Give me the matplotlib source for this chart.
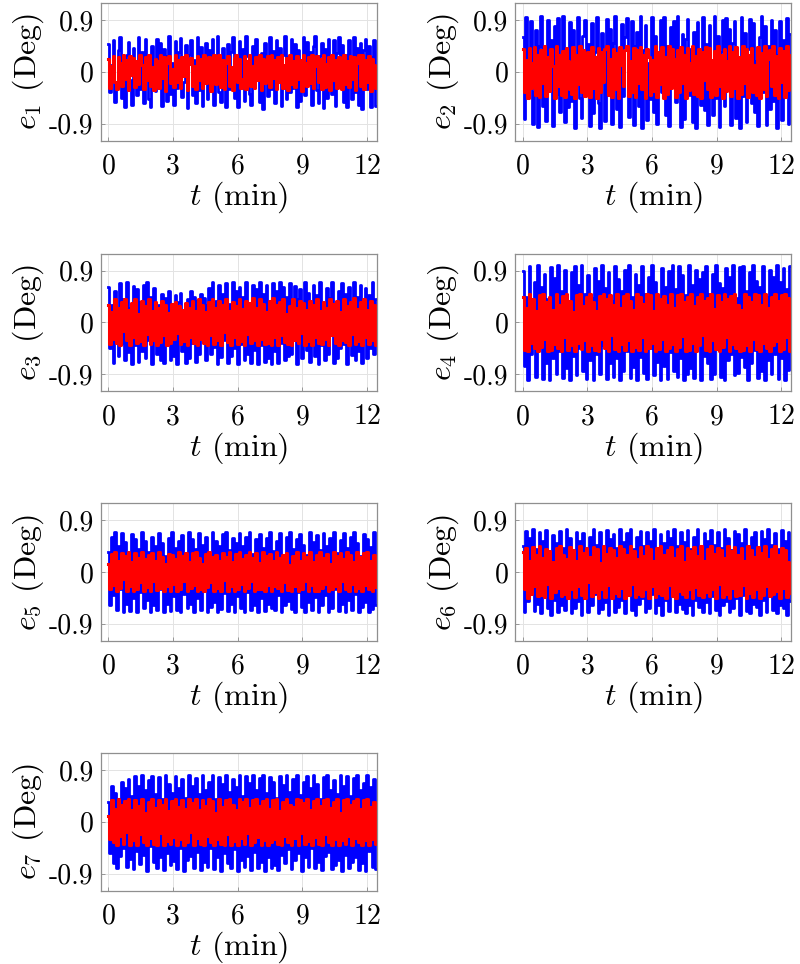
import numpy as np
import matplotlib
matplotlib.use('Agg')
import matplotlib.pyplot as plt
from matplotlib.ticker import FixedLocator, FixedFormatter

plt.rcParams['font.family'] = 'serif'
plt.rcParams['font.serif'] = ['cmr10']
plt.rcParams['mathtext.fontset'] = 'cm'
plt.rcParams['axes.unicode_minus'] = False

T_END = 12.4              # length of the record (min)
X_TICKS = [0, 3, 6, 9, 12]
X_TICK_LABELS = ['0', '3', '6', '9', '12']
Y_TICKS = [-0.9, 0, 0.9]
Y_TICK_LABELS = ['-0.9', '0', '0.9']

# tracking errors in 1/100 Deg, blue = first controller, red = second controller
e1_blue = [48, -35, 12, 55, -52, -20, 38, 60, -45, 25,
           -62, 30, 52, -15, -58, 42, 18, -40, 61, -30,
           35, -55, 58, 22, -48, -62, 45, 10, -33, 57,
           -25, 50, -60, 40, 28, -50, 62, -38, 15, -57,
           53, -28, 34, 59, -44, -18, 47, -63, 30, 55,
           -40, 20, -55, 61, -32, 44, -60, 12, 50, -47,
           38, -22, 57, -58, 25, 62, -35, -52, 42, 18,
           -61, 48, -30, 35, 60, -45, 22, -62, 54, -20,
           40, -50, 62, 28, -38, -57, 45, -25, 58, 15,
           -52, 33, -64, 50, 20, -42, 61, -30, 36, -55,
           55, -18, 42, -60, 30, 62, -48, 25, -35, 57,
           -28, 48, -62, 38, -50, 18, 60, -40, 52, -22,
           35, -58, 45, 62, -32, -55, 28, 50, -63, 40,
           -45, 58, 20, -38, 55, -60, 33, 61, -25, 47,
           -52, 30, -62, 56, 22, -48, 60, -35, 42, -58,
           50, -65, 38, 58, -30, 45, -62, 25, 55, -60]
e1_red = [22, -28, 10, 27, -18, -30, 25, 15, -25, 30,
          -12, 20, -32, 28, -5, 24, -27, 18, -22, 30,
          12, -30, 26, -15, 29, -25, 8, -31, 22, 18,
          -28, 30, -10, 25, -33, 15, 28, -20, 5, -26,
          30, -18, 20, -29, 26, -8, 30, -32, 14, 24,
          -25, 10, -30, 28, -15, 22, -28, 30, -20, 12,
          26, -33, 18, 29, -22, -10, 30, -27, 20, -30,
          15, 28, -25, 8, -31, 24, 30, -18, 22, -28,
          -12, 27, -30, 18, 30, -24, 10, -29, 26, -15,
          30, -32, 22, -20, 14, 28, -26, 30, -10, 20,
          -30, 25, -18, 29, -28, 12, 24, -31, 30, -22,
          18, -27, 28, -12, 20, -33, 30, 15, -25, 26,
          -20, 30, -29, 10, 27, -18, 22, -30, 29, -26,
          14, 25, -32, 30, -15, 20, -28, 26, 8, -30,
          30, -22, 18, -27, 28, -12, 25, -31, 16, 29,
          -24, 30, -30, 20, -18, 27, -33, 22, 12, -28]

e2_blue = [60, -82, 95, -40, 20, 88, -90, -35, 72, -96,
           45, 97, -60, 30, -85, 90, -20, 55, -95, 80,
           -38, 93, -70, 15, 97, -88, 40, -62, 86, -50,
           72, -97, 25, 95, -45, -80, 62, 90, -30, 48,
           -94, 85, -72, 35, 96, -55, -97, 68, 20, -85,
           92, -40, 75, -90, 50, 97, -65, 30, -96, 83,
           -42, 60, 94, -78, -25, 88, -93, 45, 70, -60,
           97, -97, 38, 82, -84, 15, -48, 96, -70, 62,
           -90, 35, 90, -35, 95, -75, 45, -95, 78, -20,
           88, -52, 97, 25, -96, 66, -82, 58, 92, -40,
           40, -88, 70, -97, 86, 30, -58, 95, -66, 48,
           -92, 82, 20, -75, 97, -45, 62, -96, 35, 90,
           -60, 94, -30, 75, -93, 50, 88, -80, 25, -97,
           96, -42, 68, -88, 40, 92, -55, 85, -70, 18,
           -95, 60, 97, -35, 80, -92, 45, -65, 90, -50,
           72, -97, 30, 88, -84, 55, -40, 94, -90, 65]
e2_red = [40, -35, 20, -45, 42, -28, 15, 44, -40, 30,
          -44, 38, -20, 45, -42, 25, -33, 40, 10, -45,
          45, -25, 30, -40, 36, -44, 42, 18, -30, -38,
          43, -45, 30, -22, 45, -36, 38, -42, 16, 35,
          -44, 44, -28, 25, -45, 42, -35, 35, -18, 40,
          45, -40, 22, -43, 40, -30, 33, -45, 44, 12,
          -25, 38, 45, -42, 18, -35, 42, -44, 38, -20,
          44, -30, 30, -45, 40, 25, -40, 20, -33, 45,
          -43, 35, -22, 43, -45, 26, -38, 45, -28, 40,
          22, -44, 38, -35, 44, -20, 30, -45, 42, -32,
          15, 45, -38, 28, -42, 40, -45, 35, -15, 44,
          -30, 42, -44, 20, 36, -40, 45, -25, 30, -45,
          40, -33, 18, 45, -42, 35, -28, 44, -45, 25,
          -38, 45, -20, 40, -44, 30, 42, -35, 12, -40,
          44, -45, 33, -30, 45, -42, 22, 38, -25, 45,
          -40, 28, -45, 42, -18, 36, -44, 45, -32, 30]

e3_blue = [62, -45, 30, -70, 55, 10, -58, 68, -35, 40,
           -66, 70, -52, 25, -72, 64, -40, 58, -68, 35,
           -50, 66, -62, 70, -30, 45, -72, 60, 15, -55,
           30, -65, 50, -70, 42, -38, 55, -66, 28, -58,
           48, -72, 35, 52, -50, 20, -70, 40, -62, 55,
           -35, 45, -68, 38, -55, 50, -25, 42, -66, 30,
           60, -55, 70, -42, 38, -72, 65, -60, 50, -30,
           68, -70, 32, -58, 70, -45, 55, -72, 62, -38,
           45, -66, 70, -55, 28, -70, 66, -48, 58, -72,
           70, -40, 50, -68, 65, -62, 35, -72, 68, -50,
           55, -70, 70, -35, 62, -66, 45, -58, 68, -55,
           -30, 64, -72, 40, 58, -62, 25, 70, -48, 52,
           -68, 35, 66, -58, 48, -72, 70, -40, 30, -65,
           60, -55, 42, 70, -70, 20, -62, 55, -45, 68,
           -38, 50, -72, 62, 35, -56, 70, -66, 45, -50,
           66, -70, 28, 60, -62, 48, -45, 70, -55, 40]
e3_red = [30, -38, 18, -28, 40, -35, 25, -40, 36, -15,
          40, -30, 22, -39, 34, -25, 40, -36, 15, -32,
          38, -40, 28, -20, 40, -37, 20, -30, 35, -40,
          25, -34, 38, -22, 30, -40, 16, -36, 32, -28,
          36, -18, 28, -38, 22, -32, 34, -40, 26, -25,
          38, -35, 20, -40, 40, -28, 30, -36, 18, -40,
          35, -22, 40, -38, 25, -30, 38, -40, 30, -16,
          40, -34, 20, -40, 36, -26, 28, -38, 40, -32,
          24, -40, 38, -20, 34, -36, 42, -30, 26, -40,
          40, -28, 32, -38, 18, -35, 38, -40, 42, -25,
          30, -40, 36, -22, 40, -34, 15, -38, 28, -40,
          40, -30, 25, -36, 38, -18, 34, -40, 22, -32,
          38, -40, 30, -26, 40, -35, 20, -38, 36, -28,
          26, -40, 40, -22, 32, -36, 38, -40, 18, -30,
          40, -34, 28, -40, 36, -20, 42, -38, 24, -32,
          35, -40, 40, -26, 22, -38, 38, -30, 30, -40]

e4_blue = [90, -75, 45, -100, 98, -55, 20, 70, -95, 100,
           -40, 62, -98, 85, -70, 40, -100, 96, -62, 78,
           -90, 100, -50, 55, -97, 92, -80, 35, -100, 88,
           -58, 99, -92, 65, -45, 100, -85, 50, -98, 82,
           -66, 42, -100, 95, -55, 72, -90, 100, -40, 60,
           -98, 88, -70, 38, -95, 98, -62, 75, -100, 55,
           -85, 92, -50, 100, -96, 45, -78, 85, -100, 66,
           -60, 98, -88, 50, -99, 80, -45, 100, -92, 70,
           -68, 40, -100, 95, -75, 62, -98, 90, -52, 100,
           -85, 58, -95, 99, -62, 82, -100, 48, -90, 100,
           -80, 65, -96, 92, -40, 75, -100, 88, -58, 98,
           -70, 50, -99, 85, -90, 100, -45, 68, -95, 60,
           -100, 94, -65, 80, -55, 100, -92, 42, -88, 96,
           -60, 99, -78, 55, -100, 88, -70, 100, -48, 72,
           -96, 62, -85, 98, -100, 45, -66, 92, -90, 80,
           -55, 100, -98, 70, -62, 95, -100, 58, -82, 98]
e4_red = [45, -48, 25, -50, 50, -35, 40, -45, 20, -50,
          48, -42, 50, -28, 35, -50, 44, -48, 22, -38,
          50, -45, 30, -50, 46, -25, 50, -48, 38, -40,
          18, -50, 48, -35, 50, -46, 28, -30, 44, -50,
          50, -40, 35, -48, 20, -50, 46, -28, 50, -45,
          40, -50, 48, -22, 30, -46, 50, -50, 25, -38,
          46, -48, 50, -30, 38, -50, 22, -42, 50, -48,
          44, -26, 32, -50, 50, -44, 48, -35, 20, -50,
          50, -46, 40, -28, 46, -50, 30, -45, 50, -38,
          26, -50, 48, -42, 50, -24, 36, -50, 45, -48,
          50, -36, 28, -50, 44, -40, 50, -22, 38, -48,
          42, -50, 50, -30, 24, -46, 48, -50, 35, -42,
          50, -26, 40, -50, 46, -38, 50, -45, 30, -50,
          22, -48, 50, -40, 44, -50, 36, -28, 50, -46,
          48, -50, 30, -35, 50, -44, 26, -50, 45, -40,
          50, -32, 38, -50, 48, -46, 50, -25, 42, -50]

e5_blue = [35, -58, 62, -40, 70, -66, 45, -30, 68, -70,
           52, -55, 30, -68, 66, -45, 58, -70, 40, -35,
           70, -62, 55, -48, 35, -70, 62, -58, 45, -66,
           68, -30, 50, -70, 28, -55, 60, -68, 70, -42,
           42, -66, 55, -70, 65, -38, 32, -62, 70, -55,
           58, -70, 40, -45, 68, -66, 48, -30, 62, -70,
           30, -60, 70, -52, 55, -70, 45, -64, 66, -36,
           70, -68, 38, -56, 60, -70, 50, -42, 68, -62,
           45, -70, 62, -35, 70, -66, 32, -58, 58, -70,
           66, -45, 42, -68, 60, -55, 70, -62, 36, -66,
           55, -40, 68, -70, 25, -58, 62, -50, 70, -64,
           40, -70, 58, -35, 66, -60, 48, -70, 30, -52,
           70, -66, 52, -44, 64, -70, 38, -58, 68, -40,
           46, -70, 60, -62, 70, -30, 34, -68, 56, -55,
           68, -70, 42, -48, 62, -66, 70, -38, 50, -70,
           28, -60, 66, -52, 58, -70, 44, -64, 70, -58]
e5_red = [15, -30, 32, -22, 35, -33, 20, -28, 34, -12,
          28, -33, 35, -25, 18, -32, 33, -30, 25, -18,
          35, -33, 22, -26, 30, -33, 34, -15, 20, -31,
          35, -28, 26, -33, 14, -24, 32, -33, 30, -20,
          22, -33, 35, -30, 28, -16, 34, -33, 18, -27,
          33, -22, 35, -33, 24, -30, 15, -33, 32, -26,
          35, -18, 27, -33, 30, -28, 20, -33, 34, -14,
          26, -32, 35, -24, 18, -33, 32, -30, 35, -20,
          22, -33, 30, -27, 35, -16, 25, -33, 33, -29,
          16, -30, 35, -33, 28, -22, 32, -33, 20, -25,
          35, -28, 24, -33, 30, -18, 34, -31, 12, -33,
          28, -24, 35, -33, 20, -30, 33, -15, 26, -33,
          35, -22, 18, -32, 30, -33, 35, -27, 24, -20,
          32, -33, 15, -29, 35, -24, 28, -33, 34, -16,
          22, -30, 35, -33, 30, -20, 18, -33, 35, -28,
          26, -33, 33, -22, 35, -30, 20, -33, 30, -26]

e6_blue = [45, -70, 72, -50, 60, -35, 75, -68, 40, -55,
           70, -72, 55, -40, 74, -62, 35, -75, 65, -48,
           50, -70, 72, -58, 42, -66, 75, -35, 60, -72,
           38, -62, 70, -50, 55, -75, 68, -45, 40, -70,
           62, -58, 75, -38, 48, -72, 70, -65, 35, -52,
           74, -75, 58, -42, 66, -70, 42, -60, 75, -48,
           52, -72, 68, -35, 75, -66, 40, -75, 62, -55,
           72, -45, 45, -70, 70, -62, 55, -38, 75, -72,
           38, -58, 66, -75, 50, -48, 72, -68, 60, -40,
           75, -70, 45, -55, 70, -65, 52, -72, 74, -58,
           40, -75, 62, -48, 75, -60, 35, -70, 68, -52,
           55, -72, 74, -42, 48, -66, 70, -75, 42, -58,
           75, -50, 60, -70, 38, -62, 72, -45, 66, -75,
           50, -40, 75, -68, 45, -72, 62, -55, 70, -60,
           35, -75, 72, -48, 58, -70, 75, -42, 48, -66,
           68, -72, 40, -58, 74, -62, 55, -75, 70, -50]
e6_red = [35, -30, 42, -45, 20, -38, 44, -25, 30, -42,
          45, -40, 25, -44, 40, -20, 36, -45, 18, -35,
          42, -28, 45, -42, 30, -38, 22, -45, 44, -30,
          38, -44, 20, -25, 45, -40, 34, -45, 42, -18,
          26, -42, 44, -35, 40, -45, 16, -30, 45, -44,
          32, -22, 42, -45, 38, -36, 24, -42, 45, -28,
          40, -45, 30, -40, 45, -20, 36, -44, 22, -38,
          44, -42, 28, -30, 45, -45, 40, -25, 20, -44,
          42, -36, 45, -40, 30, -45, 38, -22, 44, -42,
          25, -45, 40, -32, 45, -38, 18, -44, 42, -30,
          36, -45, 44, -26, 28, -40, 45, -44, 20, -35,
          40, -42, 45, -30, 32, -45, 42, -20, 38, -44,
          24, -38, 45, -45, 36, -28, 44, -42, 30, -40,
          42, -22, 20, -45, 45, -36, 38, -44, 26, -30,
          44, -45, 34, -40, 45, -25, 22, -42, 40, -38,
          45, -32, 30, -45, 42, -28, 38, -44, 18, -36]

e7_blue = [35, -55, 62, -72, 50, -80, 40, -60, 70, -45,
           58, -78, 75, -65, 45, -82, 80, -50, 62, -74,
           82, -58, 55, -85, 72, -42, 80, -70, 48, -80,
           78, -62, 40, -84, 82, -55, 66, -76, 50, -68,
           80, -82, 58, -45, 74, -85, 42, -66, 82, -60,
           62, -80, 76, -52, 48, -84, 82, -70, 55, -78,
           70, -45, 82, -82, 40, -62, 78, -85, 66, -55,
           82, -72, 52, -80, 75, -48, 60, -85, 82, -66,
           45, -78, 80, -60, 68, -84, 82, -52, 55, -80,
           76, -70, 82, -85, 50, -62, 78, -80, 70, -75,
           42, -84, 80, -58, 64, -72, 82, -48, 52, -82,
           74, -66, 82, -55, 46, -85, 70, -62, 80, -78,
           58, -45, 82, -80, 66, -70, 40, -84, 78, -60,
           82, -52, 55, -82, 72, -75, 48, -66, 82, -85,
           62, -58, 80, -80, 45, -70, 76, -62, 82, -84,
           55, -72, 68, -85, 82, -50, 60, -78, 74, -82]
e7_red = [10, -30, 38, -36, 22, -40, 40, -25, 30, -38,
          36, -18, 40, -40, 20, -32, 38, -40, 28, -22,
          40, -36, 16, -40, 35, -28, 40, -38, 24, -40,
          38, -20, 30, -40, 40, -34, 18, -38, 36, -26,
          40, -40, 26, -30, 38, -40, 22, -36, 40, -18,
          32, -40, 40, -28, 20, -38, 38, -40, 28, -24,
          40, -35, 36, -40, 15, -30, 40, -38, 26, -40,
          38, -22, 40, -40, 30, -34, 20, -40, 40, -28,
          34, -38, 40, -20, 24, -40, 38, -36, 40, -26,
          28, -40, 36, -32, 40, -40, 22, -35, 38, -30,
          40, -38, 18, -40, 35, -24, 40, -36, 30, -40,
          26, -28, 40, -40, 38, -20, 32, -38, 40, -34,
          20, -40, 36, -26, 40, -38, 28, -40, 38, -22,
          40, -36, 24, -40, 34, -30, 40, -40, 16, -32,
          38, -38, 40, -24, 30, -40, 36, -28, 40, -36,
          22, -40, 38, -32, 40, -40, 26, -30, 34, -38]

blue_series = [e1_blue, e2_blue, e3_blue, e4_blue, e5_blue, e6_blue, e7_blue]
red_series = [e1_red, e2_red, e3_red, e4_red, e5_red, e6_red, e7_red]

# axes rectangles in figure fractions, 4 rows x 2 cols (last slot empty)
col_left = [0.126, 0.644]
col_width = 0.345
row_bottom = [0.854, 0.594, 0.335, 0.076]
ax_height = 0.143

fig = plt.figure(figsize=(8, 9.64), dpi=100)

for i in range(7):
    row, col = i // 2, i % 2
    ax = fig.add_axes([col_left[col], row_bottom[row], col_width, ax_height])

    yb = np.array(blue_series[i]) / 100.0
    yr = np.array(red_series[i]) / 100.0
    tb = np.linspace(0, T_END, len(yb))
    tr = np.linspace(0, T_END, len(yr))

    ax.plot(tb, yb, color=(0, 0, 1), lw=2.0, drawstyle='steps-mid')
    ax.plot(tr, yr, color=(1, 0, 0), lw=2.2, drawstyle='steps-mid')

    ax.set_xlim(-0.35, 12.45)
    ax.set_ylim(-1.2, 1.2)
    ax.xaxis.set_major_locator(FixedLocator(X_TICKS))
    ax.xaxis.set_major_formatter(FixedFormatter(X_TICK_LABELS))
    ax.yaxis.set_major_locator(FixedLocator(Y_TICKS))
    ax.yaxis.set_major_formatter(FixedFormatter(Y_TICK_LABELS))
    ax.grid(True, color='#e3e3e3', lw=0.7)
    ax.set_axisbelow(True)
    ax.tick_params(direction='in', length=3, width=0.6, color='#8a8a8a',
                   labelsize=20)
    ax.tick_params(axis='x', pad=9)
    ax.tick_params(axis='y', pad=5)
    for s in ax.spines.values():
        s.set_color('#8f8f8f')
        s.set_linewidth(0.9)

    ax.set_xlabel('$t$ (min)', fontsize=23, labelpad=0)
    ax.set_ylabel('$e_{%d}$ (Deg)' % (i + 1), fontsize=23, labelpad=2)

plt.savefig('out.png', dpi=100)
plt.close()
